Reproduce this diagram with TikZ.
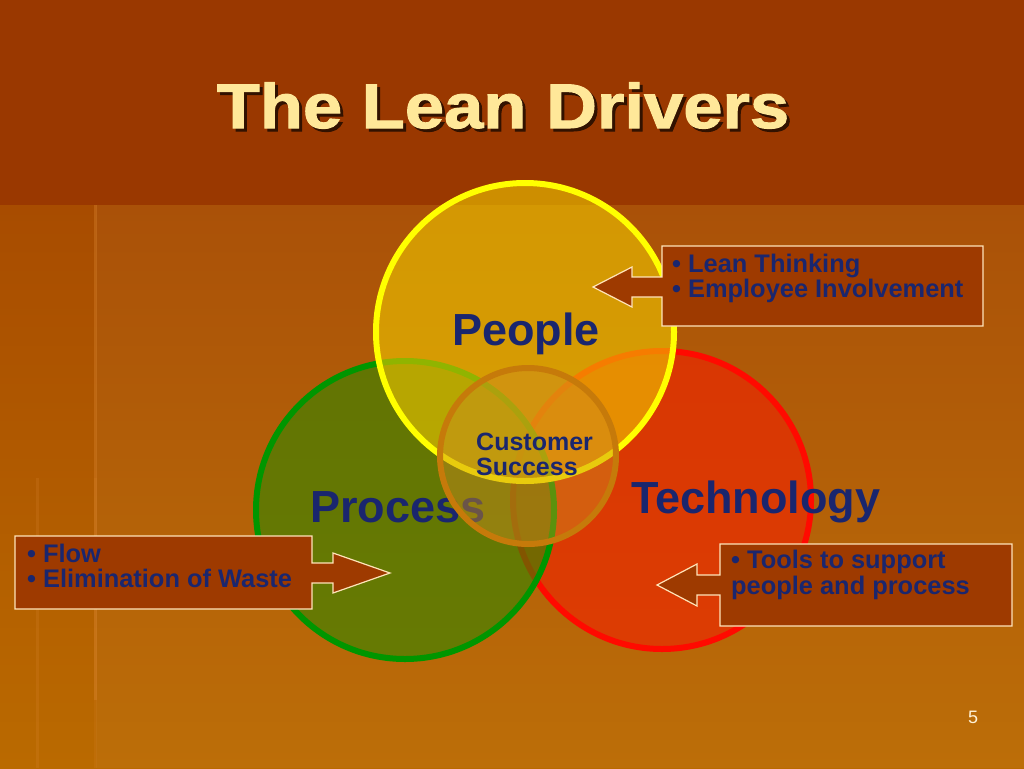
\documentclass[tikz,border=0pt]{standalone}
\usepackage{fontspec}
\setmainfont{Liberation Sans}
\newfontfamily\titlefont[FakeStretch=1.12,FakeBold=1.6]{Liberation Sans}
\definecolor{bgtop}{RGB}{154,56,0}
\definecolor{bgmid}{RGB}{168,76,0}
\definecolor{bgbot}{RGB}{186,106,0}
\definecolor{stripe}{RGB}{220,135,50}
\definecolor{peoplefill}{RGB}{240,200,0}
\definecolor{peopleedge}{RGB}{255,255,0}
\definecolor{procfill}{RGB}{48,135,0}
\definecolor{procedge}{RGB}{0,150,0}
\definecolor{techfill}{RGB}{245,32,0}
\definecolor{techedge}{RGB}{255,10,0}
\definecolor{centfill}{RGB}{205,140,30}
\definecolor{centedge}{RGB}{198,122,10}
\definecolor{navy}{RGB}{26,38,110}
\definecolor{titlecol}{RGB}{255,232,153}
\definecolor{shadowcol}{RGB}{50,18,0}
\definecolor{callfill}{RGB}{158,58,0}
\definecolor{calledge}{RGB}{255,228,185}
\definecolor{pagecol}{RGB}{255,242,215}
\begin{document}
\begin{tikzpicture}[x=1pt,y=-1pt,
  big/.style={font=\bfseries\fontsize{45}{50}\selectfont, text=navy, inner sep=0pt},
  mid/.style={font=\bfseries\fontsize{25}{27}\selectfont, text=navy, inner sep=0pt, anchor=base west},
  ctext/.style={font=\bfseries\fontsize{25.4}{27}\selectfont, text=navy, inner sep=0pt, anchor=base west},
  titletext/.style={font=\titlefont\bfseries\fontsize{63}{70}\selectfont, anchor=base, inner sep=0pt},
  callout/.style={fill=callfill, draw=calledge, line width=1.2pt, line join=miter},
  ring/.style={line width=6pt}
]
\useasboundingbox (0,0) rectangle (1024,768);
% background
\fill[bgtop] (0,0) rectangle (1024,206);
\shade[top color=bgmid, bottom color=bgbot] (0,205) rectangle (1024,768);
\fill[white, opacity=0.03] (96,205) rectangle (1024,768);
\fill[stripe, opacity=0.35] (94,205) rectangle (97,700);
\fill[stripe, opacity=0.2] (36,478) rectangle (39,768);
\fill[stripe, opacity=0.15] (94,478) rectangle (97,768);
% title
\node[titletext, text=shadowcol] (titleshadow) at (506,131) {The Lean Drivers};
\node[titletext, text=titlecol] (title) at (503,128) {The Lean Drivers};
% circles
\fill[techfill, fill opacity=0.6] (662,500) circle (149);
\draw[techedge, ring] (662,500) circle (149);
\fill[procfill, fill opacity=0.6] (405,510) circle (149);
\draw[procedge, ring] (405,510) circle (149);
\node[big, anchor=base west] (process) at (310,522) {Process};
\fill[peoplefill, fill opacity=0.6] (525,332) circle (149);
\draw[peopleedge, ring] (525,332) circle (149);
\node[big, anchor=base] (people) at (526,345) {People};
\node[big, anchor=base west, font=\bfseries\fontsize{45}{50}\selectfont] (technology) at (631,513) {Technology};
\fill[centfill, fill opacity=0.45] (528,456) circle (88);
\draw[centedge, ring] (528,456) circle (88);
\node[mid] (customer) at (476,450) {Customer};
\node[mid] (success) at (476,475) {Success};
% callouts
\draw[callout] (983,246) -- (662,246) -- (662,277) -- (632,277) -- (632,267) -- (593,287)
  -- (632,307) -- (632,297) -- (662,297) -- (662,326) -- (983,326) -- cycle;
\node[ctext] (lean) at (672,272) {• Lean Thinking};
\node[ctext] (employee) at (672,297) {• Employee Involvement};
\draw[callout] (15,536) -- (312,536) -- (312,563) -- (333,563) -- (333,553) -- (390,573)
  -- (333,593) -- (333,583) -- (312,583) -- (312,609) -- (15,609) -- cycle;
\node[ctext] (flow) at (27,562) {• Flow};
\node[ctext] (waste) at (27,587) {• Elimination of Waste};
\draw[callout] (1012,544) -- (720,544) -- (720,575) -- (697,575) -- (697,564) -- (657,585)
  -- (697,606) -- (697,595) -- (720,595) -- (720,626) -- (1012,626) -- cycle;
\node[ctext] (tools) at (731,568) {• Tools to support};
\node[ctext] (peopleproc) at (731,594) {people and process};
% page number
\node[font=\fontsize{18}{20}\selectfont, text=pagecol, anchor=base, inner sep=0pt] (page) at (973,723) {5};
\end{tikzpicture}
\end{document}
